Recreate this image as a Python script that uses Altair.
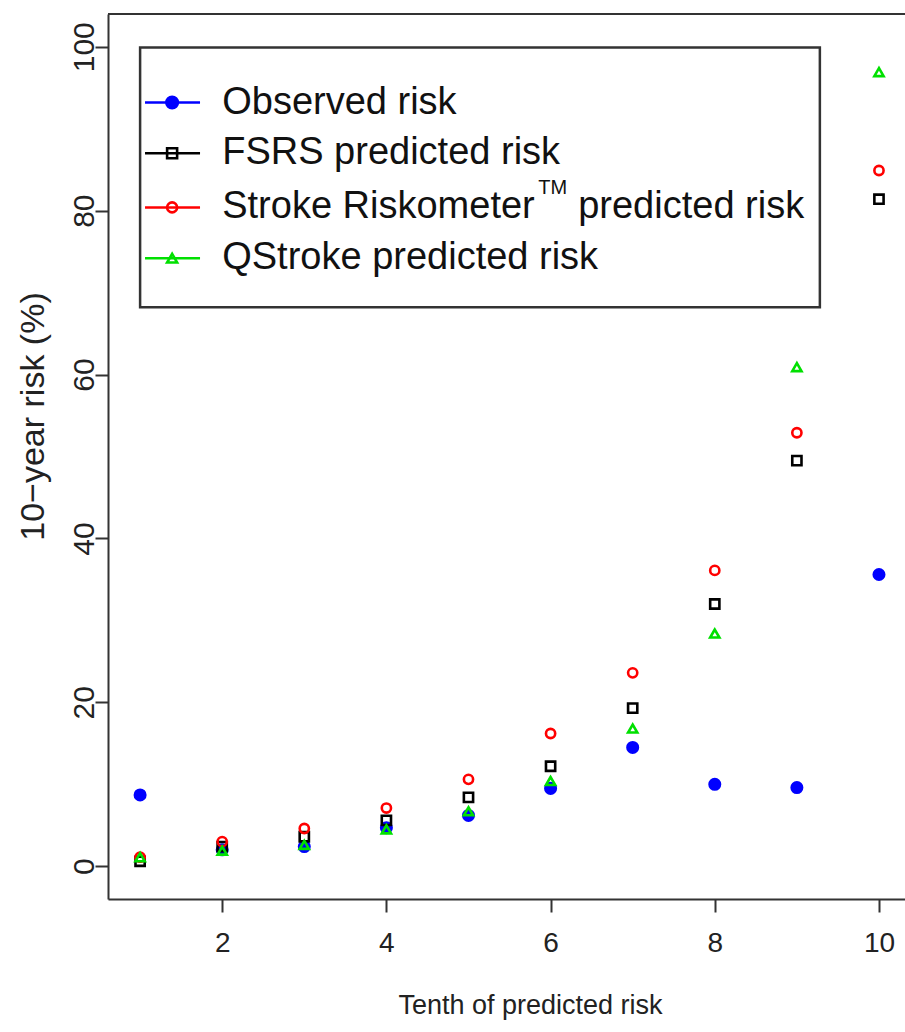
import altair as alt
import pandas as pd

# ---- data ----
tenths = [1, 2, 3, 4, 5, 6, 7, 8, 9, 10]
observed = [8.7, 2.0, 2.4, 4.7, 6.2, 9.5, 14.5, 10.0, 9.6, 35.6]
fsrs = [0.6, 2.4, 3.6, 5.6, 8.4, 12.2, 19.3, 32.0, 49.5, 81.4]
riskometer = [1.1, 3.0, 4.6, 7.1, 10.6, 16.2, 23.6, 36.1, 52.9, 84.9]
qstroke = [1.1, 1.9, 2.6, 4.5, 6.7, 10.4, 16.8, 28.4, 60.9, 96.9]

series_names = [
    "Observed risk",
    "FSRS predicted risk",
    "Stroke Riskometer\u2122 predicted risk",
    "QStroke predicted risk",
]
legend_labels = ["Observed risk", "FSRS predicted risk", "Stroke Riskometer", "QStroke predicted risk"]
superscript_text = "TM"
after_superscript = "predicted risk"
series_colors = ["#0000FF", "#000000", "#FF0000", "#00E000"]
series_shapes = ["circle", "square", "circle", "triangle-up"]

x_ticks = [2, 4, 6, 8, 10]
y_ticks = [0, 20, 40, 60, 80, 100]

# ---- tables ----
rows = []
for name, vals in zip(series_names, [observed, fsrs, riskometer, qstroke]):
    for t, v in zip(tenths, vals):
        rows.append({"tenth": t, "risk": v, "series": name})
df = pd.DataFrame(rows)
df_obs = df[df.series == series_names[0]]
df_pred = df[df.series != series_names[0]]

# legend layout (in data units of the plot)
LEG_BOX = (1.0, 9.28, 99.9, 68.2)
LEG_ROWS = [93.2, 87.0, 80.4, 74.2]
LEG_SYM_X, LEG_LINE_X1, LEG_LINE_X2, LEG_TEXT_X = 1.39, 1.06, 1.73, 2.0
leg = pd.DataFrame({
    "series": series_names,
    "label": legend_labels,
    "risk": LEG_ROWS,
    "tenth": [LEG_SYM_X] * 4,
    "lx1": [LEG_LINE_X1] * 4,
    "lx2": [LEG_LINE_X2] * 4,
    "ltx": [LEG_TEXT_X] * 4,
})
sup = pd.DataFrame({"ltx": [LEG_TEXT_X], "risk": [LEG_ROWS[2]],
                    "t1": [superscript_text], "t2": [after_superscript]})
box = pd.DataFrame({"tenth": [LEG_BOX[0]], "bx2": [LEG_BOX[1]],
                    "risk": [LEG_BOX[2]], "by2": [LEG_BOX[3]]})

FONT = "Liberation Sans, Arial, sans-serif"
W, H = 797, 885
LEG_FS = 38

xs = alt.Scale(domain=[0.609, 10.317], nice=False, zero=False)
ys = alt.Scale(domain=[-4, 104], nice=False, zero=False)

x_axis = alt.Axis(values=x_ticks, title="Tenth of predicted risk", tickSize=13,
                  labelFontSize=28, labelPadding=17, labelBaseline="top",
                  titleFontSize=27, titleX=422, titleY=106, titleAlign="center",
                  titleBaseline="middle", labelFlush=False)
y_axis = alt.Axis(values=y_ticks, title="10\u2212year risk (%)", tickSize=13,
                  labelFontSize=30, labelPadding=2, labelAngle=270,
                  labelAlign="center", labelBaseline="alphabetic",
                  titleFontSize=34, titleAngle=270, titleX=-75, titleY=402,
                  titleAlign="center", titleBaseline="middle", labelFlush=False)


def X(field):
    return alt.X(field, type="quantitative", scale=xs, axis=x_axis, title="Tenth of predicted risk")


def Y(field):
    return alt.Y(field, type="quantitative", scale=ys, axis=y_axis, title="10\u2212year risk (%)")


color_scale = alt.Scale(domain=series_names, range=series_colors)
shape_scale = alt.Scale(domain=series_names, range=series_shapes)

obs_layer = alt.Chart(df_obs).mark_circle(size=170, opacity=1, color="#0000FF").encode(
    x=X("tenth"), y=Y("risk"))

pred_layer = alt.Chart(df_pred).mark_point(filled=False, strokeWidth=2.6, size=85, opacity=1).encode(
    x=X("tenth"), y=Y("risk"),
    color=alt.Color("series:N", scale=color_scale, legend=None),
    shape=alt.Shape("series:N", scale=shape_scale, legend=None))

top_rule = alt.Chart(box).mark_rule(color="#333", strokeWidth=2).encode(
    x=alt.value(0), x2=alt.value(W), y=alt.value(0))

box_layer = alt.Chart(box).mark_rect(fill="white", stroke="#333", strokeWidth=2.5).encode(
    x=X("tenth"), x2=alt.X2("bx2"), y=Y("risk"), y2=alt.Y2("by2"))

leg_lines = alt.Chart(leg).mark_rule(strokeWidth=2.5).encode(
    x=X("lx1"), x2=alt.X2("lx2"), y=Y("risk"),
    color=alt.Color("series:N", scale=color_scale, legend=None))

leg_obs = alt.Chart(leg[leg.series == series_names[0]]).mark_circle(size=200, opacity=1, color="#0000FF").encode(
    x=X("tenth"), y=Y("risk"))

leg_pred = alt.Chart(leg[leg.series != series_names[0]]).mark_point(
    filled=False, strokeWidth=2.6, size=100, opacity=1).encode(
    x=X("tenth"), y=Y("risk"),
    color=alt.Color("series:N", scale=color_scale, legend=None),
    shape=alt.Shape("series:N", scale=shape_scale, legend=None))

leg_text = alt.Chart(leg).mark_text(align="left", baseline="middle", fontSize=LEG_FS,
                                    font=FONT, color="#111").encode(
    x=X("ltx"), y=Y("risk"), text="label:N")

leg_sup = alt.Chart(sup).mark_text(align="left", baseline="middle", fontSize=20, dx=316, dy=-19,
                                   font=FONT, color="#111").encode(
    x=X("ltx"), y=Y("risk"), text="t1:N")

leg_rest = alt.Chart(sup).mark_text(align="left", baseline="middle", fontSize=LEG_FS, dx=356,
                                    font=FONT, color="#111").encode(
    x=X("ltx"), y=Y("risk"), text="t2:N")

chart = alt.layer(
    top_rule, obs_layer, pred_layer, box_layer, leg_lines, leg_obs, leg_pred,
    leg_text, leg_sup, leg_rest
).properties(
    width=W, height=H,
    padding={"left": 108, "top": 14, "right": 0, "bottom": 128},
    autosize=alt.AutoSizeParams(type="none"),
    background="white",
).configure_view(stroke=None).configure_axis(
    grid=False, domainColor="#333", domainWidth=2, tickColor="#333", tickWidth=2,
    labelColor="#222", titleColor="#222", labelFont=FONT, titleFont=FONT,
    titleFontWeight="normal",
)

chart.save("out.html", embed_options={"renderer": "svg", "actions": False})
